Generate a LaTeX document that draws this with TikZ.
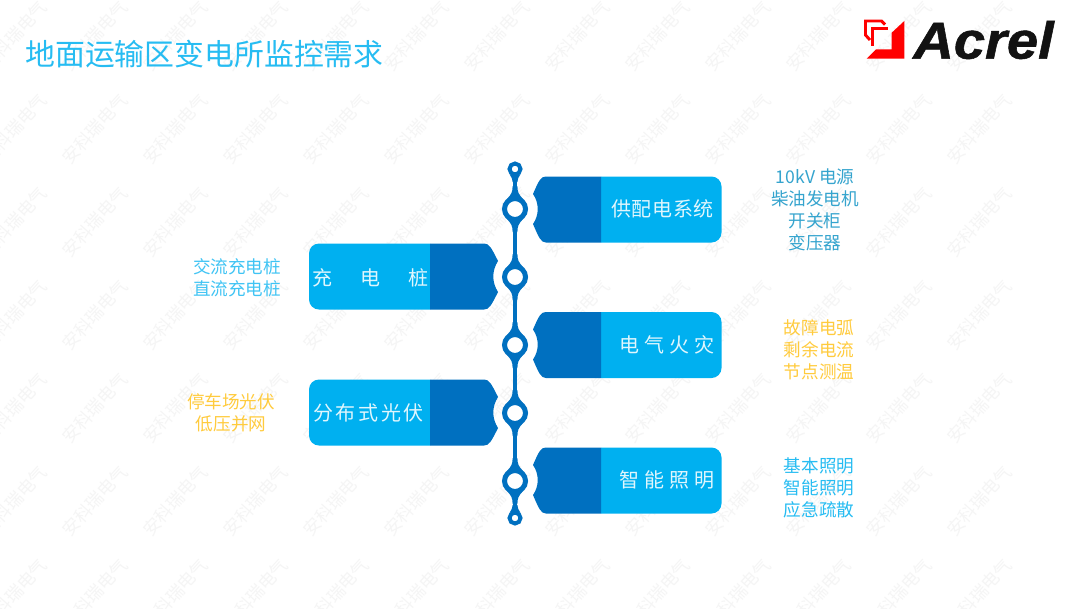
\documentclass[tikz,border=0pt]{standalone}
\usepackage{fontspec}
\setmainfont{Noto Sans CJK SC}
\newfontfamily\logofont[FakeBold=1]{Liberation Sans}
\definecolor{spine}{HTML}{0070C0}
\definecolor{sky}{HTML}{00B0F0}
\definecolor{amber}{HTML}{FFCB3D}
\definecolor{lred}{HTML}{FF0000}
\definecolor{teal}{HTML}{35A4CE}
\tikzset{
    ringbig/.style={circle, draw=spine, fill=white, line width=3.75pt, minimum size=15.75pt, inner sep=0pt, outer sep=0pt},
    ringsmall/.style={circle, draw=spine, fill=white, line width=3pt, minimum size=8.25pt, inner sep=0pt, outer sep=0pt},
    boxtext/.style={text=white!88!sky, font=\fontsize{15}{18}\selectfont},
    sidetext/.style={align=center, font=\fontsize{13.2}{16.5}\selectfont},
    wmark/.style={text=black!4, rotate=48, font=\fontsize{13}{16}\selectfont}
}
\newcommand{\gapa}{\hspace{3.6pt}}
\newcommand{\gapb}{\hspace{21pt}}
\newcommand{\gapc}{\hspace{2pt}}
\newcommand{\gapd}{\hspace{0.4pt}}
\begin{document}
\begin{tikzpicture}[x=0.75pt,y=-0.75pt]
    \clip (0,0) rectangle (1080,608);
    \fill[white] (0,0) rectangle (1080,608);
    % background marks
    \foreach \i in {0,...,13}{
        \foreach \j in {0,...,7}{
            \node[wmark] (wm-\i-\j) at ({-66+80.4*\i},{-57+93*\j}) {安科瑞电气};
        }
    }
    % title and logo
    \node[anchor=west, inner sep=0pt, text=sky!85!white, font=\fontsize{22.4}{26}\selectfont] (title) at (25,54) {地面运输区变电所监控需求};
    \fill[lred] (904.3,21) -- (891.7,32.7) -- (891.7,49.3) -- (876,49.3) -- (866.7,58.7) -- (904.3,58.7) -- cycle;
    \draw[lred, line width=2.2pt] (870,40) -- (865.5,35) -- (865.5,21) -- (881.5,21) -- (885,24.5);
    \draw[lred, line width=2.2pt] (872.7,45.5) -- (872.7,28.7) -- (888,28.7);
    \node[anchor=center, inner sep=0pt, xscale=1.08, text=black!93, font=\logofont\bfseries\itshape\fontsize{39}{44}\selectfont] (acrel) at (983.5,40) {Acrel};
    % boxes on the right
    \foreach \y in {209,344.5,480}{
        \begin{scope}[shift={(0,\y)}]
            \fill[sky, rounded corners=7.5pt] (601,-32.5) -- (721.5,-32.5) -- (721.5,33.5) -- (601,33.5);
            \fill[spine] (601,-32.5) -- (546,-32.5) .. controls (541,-32.5) and (539,-29) .. (533,-15) .. controls (539.3,-6) and (539.3,6) .. (533,15) .. controls (539,29) and (541,33.5) .. (546,33.5) -- (601,33.5) -- cycle;
        \end{scope}
    }
    % boxes on the left
    \foreach \y in {277,413}{
        \begin{scope}[shift={(0,\y)}]
            \fill[sky, rounded corners=7.5pt] (430,-33.5) -- (309,-33.5) -- (309,32.5) -- (430,32.5);
            \fill[spine] (430,-33.5) -- (484,-33.5) .. controls (489,-33.5) and (491,-30) .. (498,-16) .. controls (491.7,-6) and (491.7,5) .. (498,15) .. controls (491,29) and (489,32.5) .. (484,32.5) -- (430,32.5) -- cycle;
        \end{scope}
    }
    % flares round the rings
    \foreach \y in {209,277,345,413,481}{
        \fill[spine] (512.6,{\y-23}) .. controls (512.6,{\y-17}) and (511.5,{\y-15}) .. (507,{\y-10}) -- (523,{\y-10}) .. controls (518.5,{\y-15}) and (517.4,{\y-17}) .. (517.4,{\y-23}) -- cycle;
        \fill[spine] (512.6,{\y+23}) .. controls (512.6,{\y+17}) and (511.5,{\y+15}) .. (507,{\y+10}) -- (523,{\y+10}) .. controls (518.5,{\y+15}) and (517.4,{\y+17}) .. (517.4,{\y+23}) -- cycle;
    }
    \fill[spine] (512.6,182) .. controls (512.6,179) and (511.5,177.5) .. (510,175) -- (520,175) .. controls (518.5,177.5) and (517.4,179) .. (517.4,182) -- cycle;
    \fill[spine] (512.6,505) .. controls (512.6,508) and (511.5,509.5) .. (510,512) -- (520,512) .. controls (518.5,509.5) and (517.4,508) .. (517.4,505) -- cycle;
    % rings and spine
    \node[ringsmall] (top) at (515,169) {};
    \node[ringbig] (n1) at (515,209) {};
    \node[ringbig] (n2) at (515,277) {};
    \node[ringbig] (n3) at (515,345) {};
    \node[ringbig] (n4) at (515,413) {};
    \node[ringbig] (n5) at (515,481) {};
    \node[ringsmall] (bot) at (515,518) {};
    \draw[spine, line width=3.6pt] (top) -- (n1);
    \draw[spine, line width=3.6pt] (n1) -- (n2);
    \draw[spine, line width=3.6pt] (n2) -- (n3);
    \draw[spine, line width=3.6pt] (n3) -- (n4);
    \draw[spine, line width=3.6pt] (n4) -- (n5);
    \draw[spine, line width=3.6pt] (n5) -- (bot);
    % box labels
    \node[boxtext] (supply) at (662.5,209) {供\gapd 配\gapd 电\gapd 系\gapd 统};
    \node[boxtext] (fire) at (667,345) {电\gapa 气\gapa 火\gapa 灾};
    \node[boxtext] (light) at (667,480) {智\gapa 能\gapa 照\gapa 明};
    \node[boxtext] (charge) at (370,278) {充\gapb 电\gapb 桩};
    \node[boxtext] (solar) at (368.5,413) {分\gapc 布\gapc 式\gapc 光\gapc 伏};
    % side labels
    \node[sidetext, text=teal] (supplynote) at (815,210) {10kV 电源\\柴油发电机\\开关柜\\变压器};
    \node[sidetext, text=amber] (firenote) at (819,350) {故障电弧\\剩余电流\\节点测温};
    \node[sidetext, text=sky!85!white] (lightnote) at (819,488) {基本照明\\智能照明\\应急疏散};
    \node[sidetext, text=sky!75!white] (chargenote) at (237,278) {交流充电桩\\直流充电桩};
    \node[sidetext, text=amber] (solarnote) at (231,413) {停车场光伏\\低压并网};
\end{tikzpicture}
\end{document}
